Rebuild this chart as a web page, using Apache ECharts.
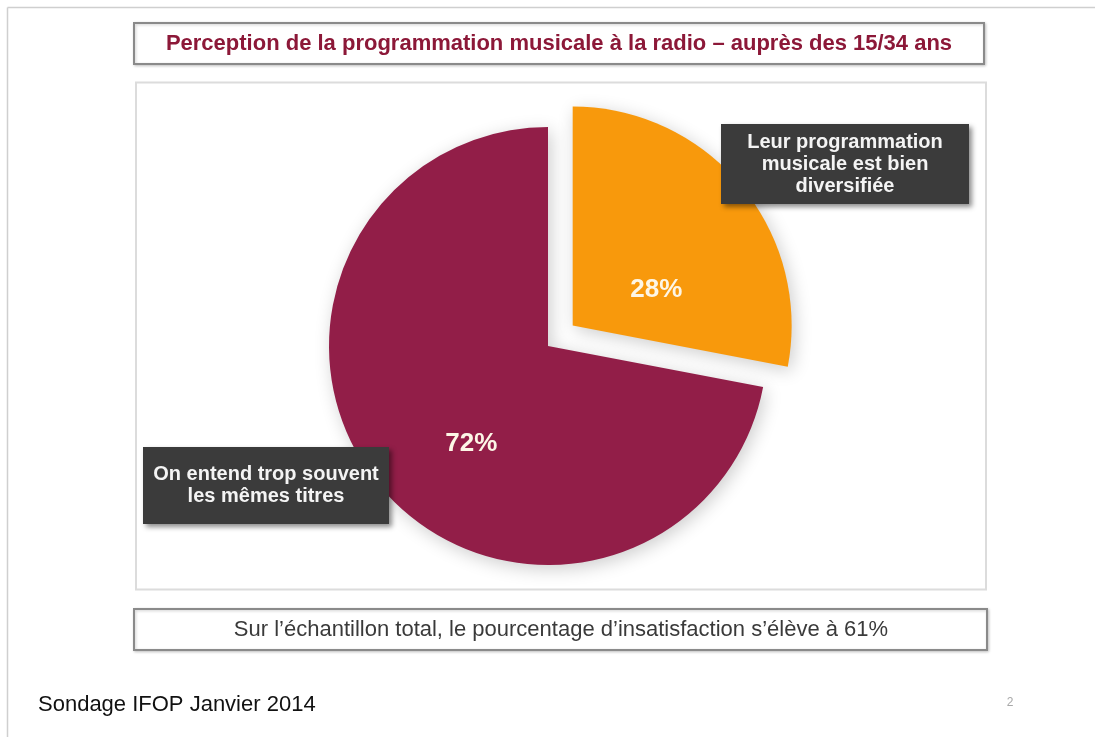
<!DOCTYPE html>
<html>
<head>
<meta charset="utf-8">
<script src="https://cdn.jsdelivr.net/npm/echarts@6/dist/echarts.min.js"></script>
<style>
  html, body { margin: 0; padding: 0; background: #ffffff; }
  #chart { width: 1095px; height: 737px; }
</style>
</head>
<body>
<div id="chart"></div>
<script>
// Survey figures: perception of music programming on the radio (15-34 year olds)
const titleText = 'Perception de la programmation musicale à la radio – auprès des 15/34 ans';
const categories = ['Leur programmation musicale est bien diversifiée', 'On entend trop souvent les mêmes titres'];
const calloutLines = [
  ['Leur programmation', 'musicale est bien', 'diversifiée'],
  ['On entend trop souvent', 'les mêmes titres']
];
const values = [28, 72];
const sliceColors = ['#f8990c', '#921e48'];
const noteText = 'Sur l’échantillon total, le pourcentage d’insatisfaction s’élève à 61%';
const sourceText = 'Sondage IFOP Janvier 2014';
const pageNumber = '2';

const chart = echarts.init(document.getElementById('chart'), null, { renderer: 'canvas' });

const FONT = 'Liberation Sans, Arial, sans-serif';

// Dark callout box with centred bold text
function callout(x, y, w, h, lines) {
  return {
    type: 'group',
    z: 20,
    children: [
      {
        type: 'rect',
        shape: { x: x, y: y, width: w, height: h },
        style: {
          fill: '#3b3b3b',
          shadowBlur: 5,
          shadowOffsetX: 3,
          shadowOffsetY: 3,
          shadowColor: 'rgba(0,0,0,0.45)'
        },
        z: 20
      },
      {
        type: 'text',
        x: x + w / 2,
        y: y + h / 2,
        style: {
          text: lines.join('\n'),
          font: 'bold 20px ' + FONT,
          fill: '#f4f4f4',
          align: 'center',
          verticalAlign: 'middle',
          lineHeight: 22
        },
        z: 21
      }
    ]
  };
}

// label nudges for the two percentages
const labelOffsets = [[-3, 36], [10, 26]];

const option = {
  backgroundColor: '#ffffff',
  animation: false,
  graphic: [
    // slide frame
    { type: 'line', shape: { x1: 7.5, y1: 7.5, x2: 1095, y2: 7.5 }, style: { stroke: '#cfcfcf', lineWidth: 1.5 }, z: 0 },
    { type: 'line', shape: { x1: 7.5, y1: 7.5, x2: 7.5, y2: 737 }, style: { stroke: '#cfcfcf', lineWidth: 1.5 }, z: 0 },
    // title box
    {
      type: 'rect', z: 1,
      shape: { x: 134, y: 23, width: 850, height: 41 },
      style: { fill: '#ffffff', stroke: '#8a8a8a', lineWidth: 2, shadowBlur: 3, shadowOffsetX: 1, shadowOffsetY: 1, shadowColor: 'rgba(0,0,0,0.2)' }
    },
    {
      type: 'text', z: 2, x: 559, y: 44,
      style: { text: titleText, font: 'bold 22px ' + FONT, fill: '#8c1838', align: 'center', verticalAlign: 'middle' }
    },
    // chart panel
    {
      type: 'rect', z: 0,
      shape: { x: 136, y: 82.5, width: 850, height: 507 },
      style: { fill: '#ffffff', stroke: '#dcdcdc', lineWidth: 2 }
    },
    // note box
    {
      type: 'rect', z: 1,
      shape: { x: 134, y: 609, width: 853, height: 41 },
      style: { fill: '#ffffff', stroke: '#8a8a8a', lineWidth: 2, shadowBlur: 3, shadowOffsetX: 1, shadowOffsetY: 1, shadowColor: 'rgba(0,0,0,0.2)' }
    },
    {
      type: 'text', z: 2, x: 561, y: 630,
      style: { text: noteText, font: '22px ' + FONT, fill: '#3a3a3a', align: 'center', verticalAlign: 'middle' }
    },
    // footer
    {
      type: 'text', z: 2, x: 38, y: 705,
      style: { text: sourceText, font: '22px ' + FONT, fill: '#111111', align: 'left', verticalAlign: 'middle' }
    },
    {
      type: 'text', z: 2, x: 1010, y: 703,
      style: { text: pageNumber, font: '12px ' + FONT, fill: '#a8a8a8', align: 'center', verticalAlign: 'middle' }
    },
    // slice callouts
    callout(721, 124, 248, 80, calloutLines[0]),
    callout(143, 447, 246, 77, calloutLines[1])
  ],
  series: [
    {
      type: 'pie',
      center: [548, 346],
      radius: [0, 219],
      startAngle: 90,
      clockwise: true,
      selectedMode: 'single',
      selectedOffset: 32,
      silent: true,
      avoidLabelOverlap: false,
      labelLine: { show: false },
      itemStyle: {
        borderWidth: 0,
        shadowBlur: 18,
        shadowOffsetX: 3,
        shadowOffsetY: 4,
        shadowColor: 'rgba(0,0,0,0.2)'
      },
      label: {
        show: true,
        position: 'inside',
        formatter: p => p.value + '%',
        fontFamily: FONT,
        fontWeight: 'bold',
        fontSize: 26,
        color: '#fdf6e6'
      },
      emphasis: { disabled: true },
      data: values.map((v, i) => ({
        name: categories[i],
        value: v,
        selected: i === 0,
        itemStyle: { color: sliceColors[i] },
        label: { offset: labelOffsets[i] },
        select: { label: { offset: labelOffsets[i] } }
      }))
    }
  ]
};

chart.setOption(option);
</script>
</body>
</html>
